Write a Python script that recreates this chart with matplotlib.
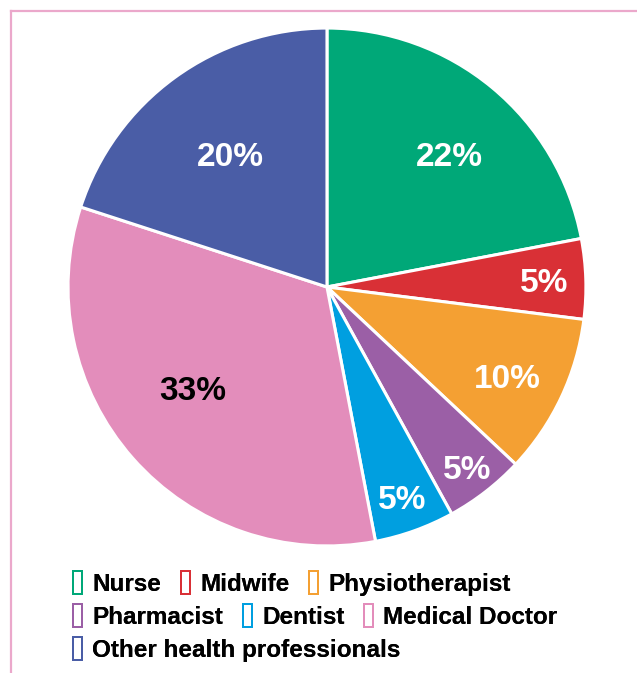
import matplotlib.pyplot as plt
import numpy as np
from matplotlib.patches import Rectangle
from matplotlib.lines import Line2D
from matplotlib.legend_handler import HandlerPatch

plt.rcParams['font.family'] = ['Liberation Sans', 'DejaVu Sans']

# data
labels = ['Nurse', 'Midwife', 'Physiotherapist', 'Pharmacist', 'Dentist',
          'Medical Doctor', 'Other health professionals']
values = [22, 5, 10, 5, 5, 33, 20]
colors = ['#00a878', '#d93036', '#f4a033', '#9b5fa6', '#009fe0', '#e38dbb', '#4a5da6']
text_colors = ['white', 'white', 'white', 'white', 'white', 'black', 'white']
label_dist = [0.70, 0.84, 0.775, 0.88, 0.86, 0.65, 0.635]
label_turn = [-3, 0, -1, 0, 0, -4.4, 0]
legend_rows = [[0, 1, 2], [3, 4, 5], [6]]


def tall_box(legend, orig_handle, xdescent, ydescent, width, height, fontsize):
    # taller, narrow hollow box like the original
    h = height * 1.35
    return Rectangle((-xdescent, -ydescent - (h - height) / 2), width, h)


fig = plt.figure(figsize=(6.37, 6.73), dpi=100)
ax = fig.add_axes([0.1068, 0.1887, 0.813, 0.7697])

wedges, _ = ax.pie(values, colors=colors, startangle=90, counterclock=False,
                   wedgeprops=dict(edgecolor='white', linewidth=2.2))
ax.set_xlim(-1, 1)
ax.set_ylim(-1, 1)
ax.axis('off')

# percentage labels
for w, v, tc, d, t in zip(wedges, values, text_colors, label_dist, label_turn):
    ang = np.deg2rad((w.theta1 + w.theta2) / 2 + t)
    ax.text(d * np.cos(ang), d * np.sin(ang), f'{v}%', color=tc,
            ha='center', va='center_baseline', fontsize=24, fontweight='bold')

# legend, one row at a time so items flow like text
row_y = [0.132, 0.083, 0.034]
for row, y in zip(legend_rows, row_y):
    handles = [Rectangle((0, 0), 1, 1, facecolor='none', edgecolor=colors[i], linewidth=1.4)
               for i in row]
    leg = fig.legend(handles, [labels[i] for i in row], ncol=len(row),
                     loc='center left', bbox_to_anchor=(0.1146, y), frameon=False,
                     handlelength=0.38, handler_map={Rectangle: HandlerPatch(patch_func=tall_box)},
                     handletextpad=0.42, columnspacing=0.8, borderpad=0, borderaxespad=0,
                     prop=dict(weight='bold', size=17.5))
    fig.add_artist(leg)

# pink frame lines
fig.add_artist(Line2D([0.0173, 1], [0.9837, 0.9837], color='#eba8cb', lw=1.6))
fig.add_artist(Line2D([0.0173, 0.0173], [0, 0.9837], color='#eba8cb', lw=1.6))

fig.savefig('out.png', dpi=100)
